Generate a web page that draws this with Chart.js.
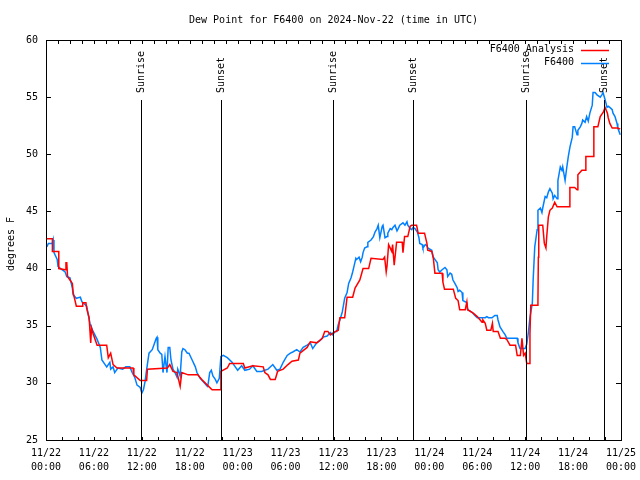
<!DOCTYPE html>
<html>
<head>
<meta charset="utf-8">
<script src="https://cdn.jsdelivr.net/npm/chart.js@4/dist/chart.umd.min.js"></script>
<style>
  html, body { margin: 0; padding: 0; background: #fff; }
</style>
</head>
<body>
<canvas id="dewChart" width="640" height="480"></canvas>
<script>
const titleText = "Dew Point for F6400 on 2024-Nov-22 (time in UTC)";
const yTitle = "degrees F";
const seriesNames = ["F6400 Analysis", "F6400"];
const seriesColors = ["#ff0000", "#0080ff"];

// hours since 2024-11-22 00:00 UTC
const startDay = 22;
const sunHours = [11.92, 21.92, 35.98, 45.99, 60.05, 69.9];
const sunLabels = ["Sunrise", "Sunset", "Sunrise", "Sunset", "Sunrise", "Sunset"];

const redHours = [0, 0.8, 0.8, 1.6, 1.6, 2.4, 2.5, 2.6, 2.7, 3.0, 3.3, 3.4, 3.8, 4.6, 4.6, 5.0, 5.1, 5.4, 5.6, 5.7, 5.9, 6.4, 7.6, 7.8, 8.1, 8.4, 8.9, 10.9, 11.0, 11.8, 12.6, 12.7, 15.2, 15.5, 15.9, 16.4, 16.8, 17.0, 17.8, 19.0, 19.5, 20.2, 20.8, 21.8, 21.9, 22.7, 23.0, 24.7, 24.9, 25.9, 27.2, 27.4, 27.8, 28.1, 28.7, 29.0, 29.7, 30.3, 30.8, 31.6, 31.8, 32.7, 33.1, 33.9, 34.6, 34.9, 35.3, 35.6, 36.0, 36.6, 36.8, 37.4, 37.7, 38.4, 38.7, 39.3, 39.7, 40.4, 40.7, 42.2, 42.4, 42.6, 42.7, 42.9, 43.3, 43.4, 43.6, 43.9, 44.6, 44.7, 44.9, 45.3, 45.6, 45.8, 46.4, 46.6, 47.4, 47.7, 47.8, 48.3, 48.5, 48.7, 49.6, 49.7, 49.9, 51.0, 51.3, 51.6, 51.8, 52.5, 52.7, 52.8, 53.5, 54.0, 54.6, 54.7, 55.0, 55.2, 55.7, 55.9, 56.0, 56.6, 56.9, 57.5, 57.7, 58.1, 58.8, 59.0, 59.4, 59.6, 59.8, 60.0, 60.2, 60.5, 60.6, 60.7, 61.5, 61.6, 61.65, 61.7, 62.2, 62.4, 62.6, 62.7, 62.9, 63.1, 63.4, 63.7, 64.0, 65.5, 65.6, 66.2, 66.5, 66.6, 67.1, 67.5, 67.6, 68.5, 68.6, 69.1, 69.4, 69.8, 70.0, 70.3, 70.4, 70.6, 70.9, 71.6, 71.9];
const redValues = [42.6, 42.6, 41.5, 41.5, 40.0, 39.9, 40.5, 40.5, 39.3, 39.0, 38.7, 37.9, 36.7, 36.7, 37.0, 37.0, 36.5, 35.7, 33.5, 34.8, 34.3, 33.3, 33.3, 32.2, 32.6, 31.6, 31.3, 31.3, 30.7, 30.2, 30.2, 31.2, 31.3, 31.6, 31.0, 30.9, 29.7, 30.9, 30.7, 30.7, 30.3, 29.8, 29.4, 29.4, 31.0, 31.3, 31.7, 31.7, 31.3, 31.5, 31.4, 30.9, 30.7, 30.3, 30.3, 31.0, 31.2, 31.6, 31.9, 32.0, 32.6, 33.1, 33.6, 33.5, 33.9, 34.5, 34.5, 34.2, 34.4, 34.6, 35.7, 35.7, 37.5, 37.5, 38.3, 39.0, 40.0, 40.0, 40.9, 40.8, 41.0, 39.7, 40.2, 42.1, 41.5, 42.1, 40.3, 42.3, 42.3, 41.4, 42.8, 42.8, 43.7, 43.8, 43.8, 43.1, 43.1, 42.2, 41.6, 41.5, 40.9, 39.6, 39.6, 38.8, 38.2, 38.2, 37.4, 37.2, 36.4, 36.4, 37.1, 36.4, 36.1, 35.8, 35.3, 35.5, 35.2, 34.6, 34.6, 35.2, 34.5, 34.5, 33.9, 33.9, 33.8, 33.3, 33.3, 32.4, 32.4, 33.9, 32.4, 32.6, 31.7, 31.7, 34.3, 36.8, 36.8, 37.2, 41.0, 43.8, 43.8, 42.2, 41.8, 42.8, 44.5, 45.1, 45.3, 45.8, 45.4, 45.4, 47.1, 47.1, 46.9, 48.2, 48.6, 48.6, 49.8, 49.8, 52.4, 52.4, 53.3, 53.7, 54.1, 53.6, 53.2, 52.7, 52.3, 52.3, 52.2];

const blueHours = [0.1, 0.3, 0.8, 0.9, 1.0, 1.4, 1.5, 2.0, 2.4, 2.6, 3.0, 3.3, 3.4, 3.8, 4.3, 4.5, 5.1, 5.5, 5.9, 6.4, 6.8, 7.0, 7.4, 7.6, 8.0, 8.1, 8.4, 8.6, 9.0, 9.6, 10.0, 10.5, 10.8, 11.1, 11.4, 11.8, 12.0, 12.2, 12.4, 12.65, 12.9, 13.3, 13.5, 13.8, 13.9, 14.0, 14.3, 14.5, 14.65, 14.9, 15.15, 15.3, 15.5, 15.65, 15.9, 16.15, 16.4, 16.5, 16.8, 17.0, 17.15, 17.4, 17.7, 17.9, 18.3, 18.7, 18.9, 19.3, 19.7, 20.2, 20.3, 20.5, 20.7, 20.9, 21.2, 21.4, 21.7, 21.9, 22.2, 22.7, 23.3, 23.7, 24.0, 24.5, 24.9, 25.5, 25.9, 26.4, 27.0, 27.4, 27.8, 28.4, 28.9, 29.3, 29.7, 30.2, 30.6, 30.9, 31.4, 31.8, 32.2, 32.7, 33.1, 33.4, 33.9, 34.3, 34.7, 35.2, 35.6, 35.9, 36.2, 36.4, 36.6, 36.8, 37.1, 37.2, 37.4, 37.7, 37.9, 38.2, 38.4, 38.6, 38.8, 38.9, 39.2, 39.4, 39.6, 39.7, 39.9, 40.2, 40.3, 40.7, 41.0, 41.2, 41.45, 41.6, 41.8, 42.1, 42.2, 42.45, 42.7, 42.8, 43.1, 43.3, 43.45, 43.7, 43.95, 44.1, 44.3, 44.7, 44.95, 45.2, 45.3, 45.6, 45.8, 45.96, 46.2, 46.5, 46.7, 46.8, 47.1, 47.2, 47.5, 47.7, 47.8, 48.3, 48.5, 48.7, 49.0, 49.1, 49.3, 49.6, 49.96, 50.2, 50.3, 50.6, 50.8, 50.96, 51.2, 51.5, 51.6, 51.8, 52.1, 52.2, 52.5, 52.7, 52.8, 53.3, 53.7, 54.0, 54.6, 55.0, 55.2, 55.4, 55.85, 56.2, 56.5, 56.6, 56.85, 57.2, 57.5, 57.7, 58.4, 59.0, 59.1, 59.35, 60.0, 60.2, 60.4, 60.6, 60.9, 61.0, 61.2, 61.5, 61.6, 61.9, 62.1, 62.2, 62.5, 62.7, 62.9, 63.1, 63.4, 63.5, 63.7, 64.0, 64.1, 64.4, 64.6, 64.7, 65.0, 65.2, 65.4, 65.6, 65.9, 66.0, 66.2, 66.5, 66.6, 66.9, 67.1, 67.2, 67.5, 67.7, 67.9, 68.1, 68.4, 68.5, 68.75, 69.0, 69.4, 69.6, 69.75, 70.0, 70.25, 70.4, 70.6, 70.9, 71.0, 71.25, 71.5, 71.6, 71.9];
const blueValues = [41.9, 42.2, 42.2, 42.5, 41.4, 40.8, 40.2, 39.9, 39.7, 39.3, 39.2, 38.3, 37.7, 37.4, 37.5, 37.1, 36.7, 35.2, 34.5, 33.8, 33.1, 32.0, 31.6, 31.4, 31.8, 31.2, 31.4, 30.9, 31.3, 31.2, 31.4, 31.4, 30.9, 30.5, 29.8, 29.6, 29.1, 29.4, 30.1, 31.4, 32.6, 32.9, 33.3, 33.9, 34.0, 32.9, 32.6, 32.5, 30.9, 32.3, 30.9, 33.1, 33.1, 32.0, 31.2, 30.9, 30.5, 31.2, 30.6, 32.7, 33.0, 32.9, 32.6, 32.6, 32.0, 31.4, 30.9, 30.4, 30.1, 29.7, 29.9, 30.9, 31.1, 30.6, 30.3, 30.0, 30.4, 32.3, 32.4, 32.2, 31.8, 31.4, 31.1, 31.5, 31.1, 31.2, 31.5, 31.0, 31.0, 31.1, 31.2, 31.6, 31.1, 31.2, 31.8, 32.4, 32.6, 32.7, 32.9, 32.7, 33.1, 33.3, 33.5, 33.0, 33.5, 33.7, 34.0, 34.1, 34.4, 34.2, 34.5, 34.5, 35.1, 35.5, 36.2, 36.6, 37.4, 37.9, 38.7, 39.2, 39.7, 40.3, 40.9, 40.8, 41.0, 40.6, 41.0, 41.4, 41.8, 41.9, 42.3, 42.5, 42.8, 43.2, 43.5, 43.8, 42.7, 43.7, 43.8, 42.7, 42.8, 43.1, 43.5, 43.4, 43.6, 43.8, 43.3, 43.5, 43.8, 44.0, 43.8, 44.1, 43.8, 43.5, 43.4, 43.6, 43.5, 43.2, 42.7, 42.2, 42.1, 41.8, 42.1, 42.0, 41.8, 41.6, 41.0, 40.8, 40.5, 39.9, 39.7, 39.9, 40.1, 39.9, 39.3, 39.6, 39.5, 39.0, 38.7, 38.3, 38.0, 38.1, 37.9, 37.2, 37.1, 37.0, 36.4, 36.2, 35.9, 35.7, 35.7, 35.7, 35.8, 35.7, 35.7, 35.9, 35.9, 35.5, 34.9, 34.5, 34.2, 33.9, 33.9, 33.9, 33.5, 33.0, 33.0, 33.4, 34.4, 35.7, 37.0, 39.0, 41.9, 43.4, 45.1, 45.3, 44.9, 45.3, 46.3, 46.2, 46.7, 47.0, 46.6, 46.1, 46.4, 46.1, 47.7, 48.9, 48.6, 48.9, 47.7, 48.8, 49.8, 50.6, 51.5, 52.4, 52.4, 51.7, 52.1, 52.4, 52.7, 53.0, 52.8, 53.3, 52.9, 53.6, 54.3, 55.4, 55.4, 55.2, 55.0, 55.2, 55.4, 54.8, 54.1, 54.2, 54.1, 53.9, 53.6, 53.3, 52.7, 52.3, 51.7];

const FONT = "DejaVu Sans Mono";

function toPoints(hours, values) {
  return hours.map((h, i) => ({ x: h, y: values[i] }));
}

function tickLabel(h) {
  const day = startDay + Math.floor(h / 24);
  const hh = h % 24;
  return ["11/" + day, String(hh).padStart(2, "0") + ":00"];
}

const framePlugin = {
  id: "frame",
  afterDraw(chart) {
    const ctx = chart.ctx;
    const a = chart.chartArea;
    const xs = chart.scales.x;
    const ys = chart.scales.y;
    ctx.save();
    ctx.strokeStyle = "#000";
    ctx.lineWidth = 1;

    // sunrise / sunset markers
    const lineTop = a.top + (a.bottom - a.top) * 0.15;
    ctx.font = "10px " + FONT;
    ctx.fillStyle = "#000";
    sunHours.forEach((h, i) => {
      const px = Math.round(xs.getPixelForValue(h)) + 0.5;
      ctx.beginPath();
      ctx.moveTo(px, lineTop);
      ctx.lineTo(px, a.bottom);
      ctx.stroke();
      ctx.save();
      ctx.translate(px, lineTop - 7);
      ctx.rotate(-Math.PI / 2);
      ctx.textAlign = "left";
      ctx.textBaseline = "middle";
      ctx.fillText(sunLabels[i], 0, 0);
      ctx.restore();
    });

    // border
    ctx.strokeRect(Math.round(a.left) + 0.5, Math.round(a.top) + 0.5,
      Math.round(a.right - a.left), Math.round(a.bottom - a.top));

    // y ticks, mirrored
    ctx.beginPath();
    for (let v = ys.min; v <= ys.max; v += 5) {
      const py = Math.round(ys.getPixelForValue(v)) + 0.5;
      ctx.moveTo(a.left, py); ctx.lineTo(a.left + 5, py);
      ctx.moveTo(a.right, py); ctx.lineTo(a.right - 5, py);
    }
    // bottom ticks every 2 h
    for (let h = 0; h <= 72; h += 2) {
      const px = Math.round(xs.getPixelForValue(h)) + 0.5;
      ctx.moveTo(px, a.bottom); ctx.lineTo(px, a.bottom - 3);
    }
    // top ticks every 1.5 h
    for (let h = 0; h <= 72; h += 1.5) {
      const px = Math.round(xs.getPixelForValue(h)) + 0.5;
      ctx.moveTo(px, a.top); ctx.lineTo(px, a.top + 4);
    }
    ctx.stroke();

    // title
    ctx.textAlign = "center";
    ctx.textBaseline = "middle";
    ctx.fillText(titleText, (a.left + a.right) / 2, 20);

    // y title
    ctx.save();
    ctx.translate(11, 244);
    ctx.rotate(-Math.PI / 2);
    ctx.fillText(yTitle, 0, 0);
    ctx.restore();

    // legend: text then sample line
    ctx.textAlign = "right";
    seriesNames.forEach((name, i) => {
      const y = a.top + 9.5 + i * 13;
      ctx.fillStyle = "#000";
      ctx.fillText(name, a.right - 47, y);
      ctx.strokeStyle = seriesColors[i];
      ctx.lineWidth = 1.5;
      ctx.beginPath();
      ctx.moveTo(a.right - 40, Math.round(y) + 0.5);
      ctx.lineTo(a.right - 12, Math.round(y) + 0.5);
      ctx.stroke();
    });
    ctx.restore();
  }
};

new Chart(document.getElementById("dewChart"), {
  type: "line",
  data: {
    datasets: [
      {
        label: seriesNames[0],
        data: toPoints(redHours, redValues),
        borderColor: seriesColors[0],
        borderWidth: 1.5,
        pointRadius: 0,
        tension: 0
      },
      {
        label: seriesNames[1],
        data: toPoints(blueHours, blueValues),
        borderColor: seriesColors[1],
        borderWidth: 1.5,
        pointRadius: 0,
        tension: 0
      }
    ]
  },
  options: {
    responsive: false,
    animation: false,
    devicePixelRatio: 1,
    layout: { padding: { top: 40, right: 19, left: 0, bottom: 0 } },
    plugins: {
      legend: { display: false },
      tooltip: { enabled: false },
      title: { display: false }
    },
    scales: {
      x: {
        type: "linear",
        min: 0,
        max: 72,
        afterFit(scale) {
          scale.height = 40;
          scale.paddingLeft = 0;
          scale.paddingRight = 0;
        },
        grid: { display: false, drawTicks: false },
        border: { display: false },
        ticks: {
          stepSize: 6,
          autoSkip: false,
          maxRotation: 0,
          padding: 6,
          color: "#000",
          font: { family: FONT, size: 10, lineHeight: 1.4 },
          callback: (v) => tickLabel(v)
        }
      },
      y: {
        min: 25,
        max: 60,
        afterFit(scale) {
          scale.width = 46;
          scale.paddingTop = 0;
          scale.paddingBottom = 0;
        },
        grid: { display: false, drawTicks: false },
        border: { display: false },
        ticks: {
          stepSize: 5,
          padding: 8,
          color: "#000",
          font: { family: FONT, size: 10 }
        }
      }
    }
  },
  plugins: [framePlugin]
});
</script>
</body>
</html>
